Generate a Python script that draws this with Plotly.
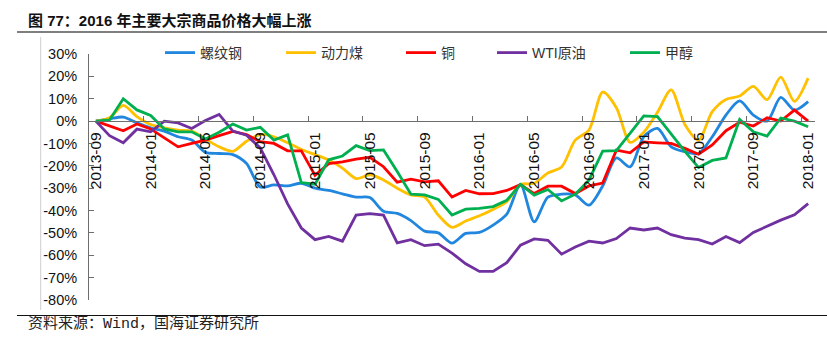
import plotly.graph_objects as go

months = ['2013-09', '2013-10', '2013-11', '2013-12', '2014-01', '2014-02', '2014-03', '2014-04',
          '2014-05', '2014-06', '2014-07', '2014-08', '2014-09', '2014-10', '2014-11', '2014-12',
          '2015-01', '2015-02', '2015-03', '2015-04', '2015-05', '2015-06', '2015-07', '2015-08',
          '2015-09', '2015-10', '2015-11', '2015-12', '2016-01', '2016-02', '2016-03', '2016-04',
          '2016-05', '2016-06', '2016-07', '2016-08', '2016-09', '2016-10', '2016-11', '2016-12',
          '2017-01', '2017-02', '2017-03', '2017-04', '2017-05', '2017-06', '2017-07', '2017-08',
          '2017-09', '2017-10', '2017-11', '2017-12', '2018-01']

tick_labels = ['2013-09', '2014-01', '2014-05', '2014-09', '2015-01', '2015-05', '2015-09',
               '2016-01', '2016-05', '2016-09', '2017-01', '2017-05', '2017-09', '2018-01']

rebar = [0, 1, 1.8, -0.8, -3, -4.5, -7, -8.5, -14, -14.5, -15, -19, -29.5, -28.5, -29, -27.8,
         -30, -31, -32.5, -34, -34.2, -40.3, -41.3, -44.5, -49.2, -50, -54.6, -50.2, -49.8, -46.5,
         -41.6, -28.4, -45, -34, -32.7, -33, -37.6, -29, -16.5, -20.5, -7, -3.3, -11.5, -13.7,
         -14.5, -7, 2.7, 9, 2.7, 0, 10.6, 4.9, 8.7]

coal = [0, 1.5, 7, 2, -1.5, -3, -4, -4.5, -8, -11.5, -13.5, -9, -6, -7, -9.7, -12.7,
        -15, -17.4, -21, -25.7, -24, -26.3, -30, -33, -34, -42, -47.5, -44.7, -42.3, -39.5,
        -36, -28.4, -27.8, -23.2, -20.5, -8.5, -4, 13, 6, -9.5, -5, 4, 14, -1.5,
        -8.5, 4.2, 9.7, 11.2, 15.5, 9.6, 19.7, 8.8, 19.2]

copper = [0, -2.2, -4.3, -1.3, -3.5, -7.5, -11.5, -10, -8.5, -6.5, -4.6, -6, -9.2, -10, -13.3, -13.3,
          -24.3, -19, -18.2, -17, -16.2, -20.4, -27.3, -26, -27.2, -26.7, -34, -31, -32.5, -32.4,
          -31, -28.4, -32.4, -29.1, -29.1, -32.4, -29, -27.7, -13, -14.2, -9.3, -9.7, -10, -12.2,
          -14.8, -10.7, -4.3, -0.5, -2.2, 1.5, 0, 4.9, 0]

wti = [0, -6.5, -9.7, -3.6, -4.8, 0, -0.8, -3.3, 0.3, 3, -4.5, -6.3, -12, -24, -37, -47.8,
       -53, -51.6, -53.7, -42, -41.4, -42, -54.5, -53, -55.7, -55, -59, -63.8, -67.2, -67.2,
       -63.3, -55.5, -52.7, -53.3, -59.5, -56.3, -53.7, -54.5, -52.5, -47.8, -48.7, -47.8, -50.8,
       -52.3, -53, -55, -51.6, -54.3, -49.8, -46.9, -44.3, -41.9, -36.9]

methanol = [0, 0.5, 10, 5, 2.5, -3.5, -4.8, -4.8, -8, -5, -1.3, -4, -2.8, -8.5, -6.2, -27.5,
            -28.2, -17.3, -15.6, -11, -13.2, -12.9, -22.5, -32.7, -33, -35, -42, -39.4, -39, -38.2,
            -35.4, -28.3, -33.1, -30.6, -35.7, -32.7, -26.4, -13.4, -13.2, -5.5, 2.3, 2, -6, -13.5,
            -20.8, -17.6, -16.5, 0.7, -4.8, -6.7, 1.4, 0, -2.5]

series_names = ['螺纹钢', '动力煤', '铜', 'WTI原油', '甲醇']
series_vals = [rebar, coal, copper, wti, methanol]
colors = ['#2186DE', '#FFC000', '#FF0000', '#7030A0', '#00B050']
smooth = [True, True, False, False, False]
legend_ids = ['legend', 'legend2', 'legend3', 'legend4', 'legend5']
legend_px = [160, 281, 401, 492, 625]

W, H = 827, 340
L, R, T, B = 89, 12, 54, 40
PW, PH = W - L - R, H - T - B


def pxx(p):
    return (p - L) / PW


def pxy(p):
    return (H - B - p) / PH


CJK = 'Noto Sans CJK SC'
LAT = 'Liberation Sans, Arial'

fig = go.Figure()
for name, vals, col, sm, lg in zip(series_names, series_vals, colors, smooth, legend_ids):
    fig.add_trace(go.Scatter(
        x=months, y=vals, mode='lines', name=name, legend=lg,
        line=dict(color=col, width=2.8, shape='spline' if sm else 'linear',
                  smoothing=0.8 if sm else None),
        hoverinfo='skip'))

layout_legends = {}
for lg, xp in zip(legend_ids, legend_px):
    layout_legends[lg] = dict(
        orientation='h', x=pxx(xp), y=pxy(53), xanchor='left', yanchor='middle',
        bgcolor='rgba(0,0,0,0)', borderwidth=0,
        font=dict(family='Liberation Sans, ' + CJK, size=14, color='#333333'),
        itemwidth=30, tracegroupgap=0)

fig.update_layout(
    width=W, height=H,
    margin=dict(l=L, r=R, t=T, b=B),
    paper_bgcolor='white', plot_bgcolor='white',
    showlegend=True,
    **layout_legends,
    xaxis=dict(type='category', range=[-0.5, len(months) - 0.5],
               tickmode='array', tickvals=tick_labels, ticktext=tick_labels,
               tickson='boundaries', ticks='inside', ticklen=5, tickcolor='#6d6d6d',
               tickangle=-90, showgrid=False, showline=True, linecolor='#6d6d6d', linewidth=1,
               anchor='free', position=80 / 110, zeroline=False, ticklabelstandoff=4,
               tickfont=dict(family=LAT, size=15.5, color='#111111')),
    yaxis=dict(range=[-80, 30], tickmode='array',
               tickvals=[-80, -70, -60, -50, -40, -30, -20, -10, 0, 10, 20, 30],
               ticktext=['-80%', '-70%', '-60%', '-50%', '-40%', '-30%', '-20%', '-10%',
                         '0%', '10%', '20%', '30%'],
               ticks='inside', ticklen=5, tickcolor='#6d6d6d', showgrid=False,
               showline=True, linecolor='#6d6d6d', linewidth=1, zeroline=False,
               ticklabelstandoff=8,
               tickfont=dict(family=LAT, size=14.5, color='#111111')),
    shapes=[
        dict(type='line', xref='paper', yref='paper', x0=pxx(17), x1=pxx(827),
             y0=pxy(32), y1=pxy(32), line=dict(color='#555555', width=1.5)),
        dict(type='line', xref='paper', yref='paper', x0=pxx(17), x1=pxx(827),
             y0=pxy(315.5), y1=pxy(315.5), line=dict(color='#111111', width=1)),
        dict(type='line', xref='paper', yref='paper', x0=pxx(40.7), x1=pxx(40.7),
             y0=pxy(37), y1=pxy(310), line=dict(color='#cfcfcf', width=1)),
    ],
    annotations=[
        dict(text='<b>图 77：2016 年主要大宗商品价格大幅上涨</b>', xref='paper', yref='paper',
             x=pxx(26), y=pxy(20), xanchor='left', yanchor='middle', showarrow=False,
             font=dict(family='Liberation Sans, ' + CJK, size=15, color='#111111')),
        dict(text='资料来源：Wind，国海证券研究所', xref='paper', yref='paper',
             x=pxx(26), y=pxy(324), xanchor='left', yanchor='middle', showarrow=False,
             font=dict(family='Liberation Mono, ' + CJK, size=15, color='#222222')),
    ],
)

fig.write_html('out.html')
